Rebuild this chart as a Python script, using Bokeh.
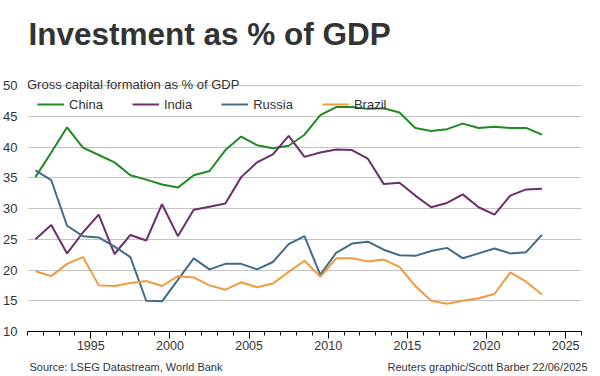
from bokeh.plotting import figure
from bokeh.models import Label, Legend, LegendItem, SingleIntervalTicker, FixedTicker, Range1d
from bokeh.layouts import column, row
from bokeh.embed import file_html
from bokeh.resources import INLINE

years = list(range(1991, 2024))
china = [35.1, 39.1, 43.2, 39.9, 38.7, 37.5, 35.4, 34.7, 33.9, 33.4, 35.4, 36.1, 39.5, 41.7, 40.3, 39.8,
         40.2, 42.0, 45.2, 46.5, 46.5, 46.2, 46.3, 45.6, 43.1, 42.6, 42.9, 43.8, 43.1, 43.3, 43.1, 43.1, 42.0]
india = [25.0, 27.3, 22.7, 26.1, 29.0, 22.6, 25.7, 24.8, 30.7, 25.5, 29.8, 30.3, 30.8, 35.1, 37.5, 38.8,
         41.8, 38.4, 39.1, 39.6, 39.5, 38.1, 34.0, 34.2, 32.1, 30.2, 30.9, 32.3, 30.2, 29.0, 32.1, 33.1, 33.2]
russia = [36.2, 34.6, 27.2, 25.5, 25.3, 23.8, 22.1, 15.0, 14.9, 18.4, 21.9, 20.1, 21.0, 21.0, 20.1, 21.3,
          24.2, 25.5, 19.2, 22.8, 24.3, 24.6, 23.3, 22.4, 22.3, 23.1, 23.6, 21.9, 22.7, 23.5, 22.7, 22.9, 25.7]
brazil = [19.8, 19.0, 21.0, 22.1, 17.5, 17.4, 17.9, 18.2, 17.4, 19.0, 18.8, 17.5, 16.8, 18.0, 17.2, 17.8,
          19.7, 21.5, 18.9, 21.9, 21.9, 21.4, 21.7, 20.5, 17.4, 15.0, 14.5, 15.0, 15.4, 16.1, 19.6, 18.1, 16.0]
series_names = ["China", "India", "Russia", "Brazil"]
series_colors = ["#1f8a22", "#6e2d6c", "#3f6c8c", "#f29a3f"]
y_ticks = [10, 15, 20, 25, 30, 35, 40, 45, 50]

W = 600
MAIN_H, FOOT_H = 358, 18
FL, FR, FB = 27, 581, 331       # frame left/right/bottom in pixels (frame top = 0)
GRID50 = 85                     # pixel row of the 50 gridline
X0, X1 = 1991, 2026
Y0, YTOP = 10, 50
Y1 = Y0 + FB * (YTOP - Y0) / (FB - GRID50)   # extend the range to the canvas top

xs = [y + 0.5 for y in years]

p = figure(width=W, height=MAIN_H, output_backend="svg", toolbar_location=None,
           x_range=Range1d(X0, X1), y_range=Range1d(Y0, Y1),
           min_border_left=FL, min_border_right=W - FR, min_border_top=0,
           min_border_bottom=MAIN_H - FB)
p.outline_line_color = None
p.background_fill_color = "white"
p.border_fill_color = "white"

def dx(px):
    return X0 + (px - FL) * (X1 - X0) / (FR - FL)

def dy(py):
    return Y0 + (FB - py) * (Y1 - Y0) / FB

renderers = []
for name, vals, col in zip(series_names, [china, india, russia, brazil], series_colors):
    r = p.line(xs, vals, line_color=col, line_width=2)
    renderers.append((name, r))

p.xgrid.grid_line_color = None
p.ygrid.grid_line_color = "#c4c4c4"
p.ygrid.grid_line_width = 1
p.yaxis.ticker = FixedTicker(ticks=y_ticks)
p.yaxis.axis_line_color = None
p.yaxis.major_tick_line_color = None
p.yaxis.minor_tick_line_color = None
p.yaxis.major_label_text_font = "Liberation Sans"
p.yaxis.major_label_text_font_size = "13px"
p.yaxis.major_label_text_color = "#333333"
p.yaxis.major_label_standoff = 4

p.xaxis.ticker = SingleIntervalTicker(interval=5, num_minor_ticks=5)
p.xaxis.axis_line_color = "black"
p.xaxis.major_tick_line_color = "black"
p.xaxis.minor_tick_line_color = "black"
p.xaxis.major_tick_in = 0
p.xaxis.major_tick_out = 7
p.xaxis.minor_tick_in = 0
p.xaxis.minor_tick_out = 4
p.xaxis.major_label_text_font = "Liberation Sans"
p.xaxis.major_label_text_font_size = "12.5px"
p.xaxis.major_label_text_color = "#333333"
p.xaxis.major_label_standoff = 2

legend = Legend(items=[LegendItem(label=n, renderers=[r]) for n, r in renderers],
                orientation="horizontal", location=(10, FB - 95 - 18),
                background_fill_alpha=0, border_line_alpha=0,
                padding=0, margin=0, spacing=29, glyph_width=27, glyph_height=18,
                label_height=18, label_standoff=5,
                label_text_font="Liberation Sans", label_text_font_size="13px",
                label_text_color="#333333")
p.add_layout(legend, "center")

p.add_layout(Label(x=dx(28), y=dy(33.5), text="Investment as % of GDP",
                   text_font="Liberation Sans", text_font_style="bold", text_font_size="31.5px",
                   text_color="#333333", text_baseline="alphabetic"))
p.add_layout(Label(x=dx(26.5), y=dy(84), text="Gross capital formation as % of GDP",
                   text_font="Liberation Sans", text_font_size="13px",
                   text_color="#333333", text_baseline="alphabetic"))

# footer strip without axes: data units = page pixels
foot = figure(width=W, height=FOOT_H, output_backend="svg", toolbar_location=None,
              x_range=Range1d(0, W), y_range=Range1d(FOOT_H, 0),
              x_axis_location=None, y_axis_location=None,
              min_border_left=0, min_border_right=0,
              min_border_top=0, min_border_bottom=0)
foot.grid.visible = False
foot.outline_line_color = None
foot.background_fill_color = "white"
foot.border_fill_color = "white"
base = 366 - MAIN_H
foot.add_layout(Label(x=29, y=base, text="Source: LSEG Datastream, World Bank",
                      text_font="Liberation Sans", text_font_size="11px",
                      text_color="#333333", text_baseline="alphabetic"))
foot.add_layout(Label(x=587, y=base, text="Reuters graphic/Scott Barber 22/06/2025",
                      text_font="Liberation Sans", text_font_size="11px", text_align="right",
                      text_color="#333333", text_baseline="alphabetic"))

layout = column(p, row(foot, spacing=0), spacing=0)
open("out.html", "w").write(file_html(layout, INLINE))
